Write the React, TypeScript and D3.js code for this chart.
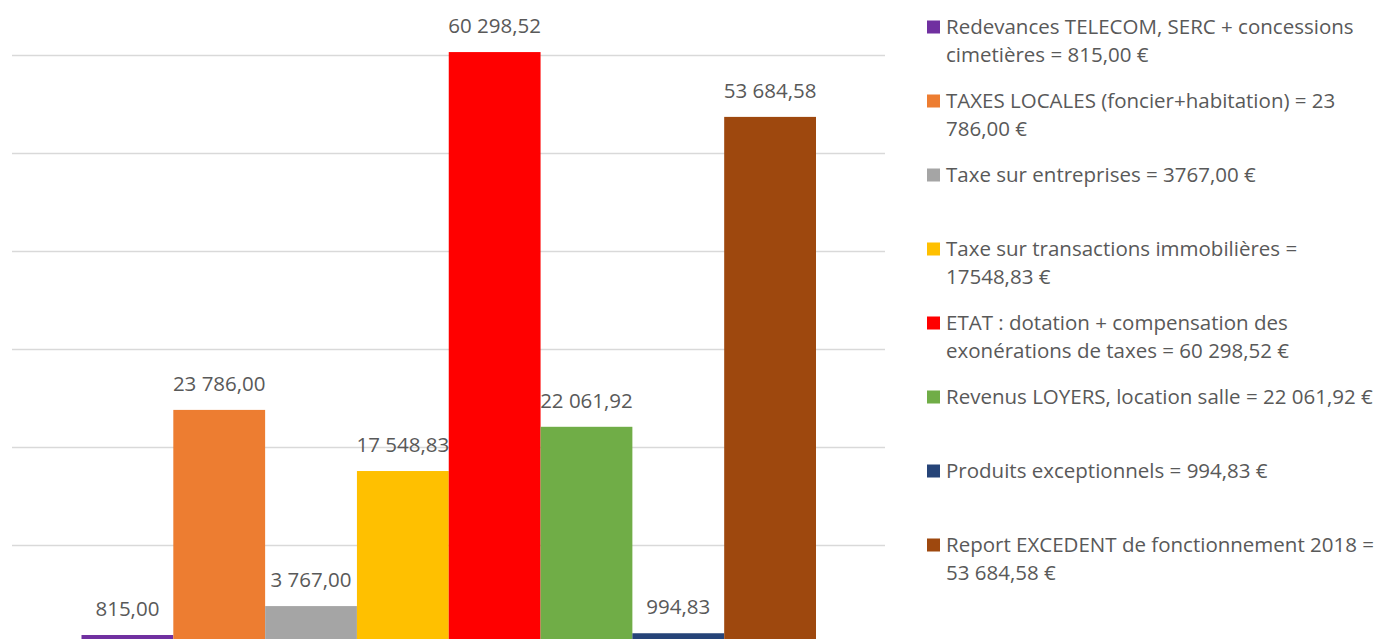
import React from "react";
import * as d3 from "d3";

const categories = [
  "Redevances TELECOM, SERC + concessions cimetières",
  "TAXES LOCALES (foncier+habitation)",
  "Taxe sur entreprises",
  "Taxe sur transactions immobilières",
  "ETAT : dotation + compensation des exonérations de taxes",
  "Revenus LOYERS, location salle",
  "Produits exceptionnels",
  "Report EXCEDENT de fonctionnement 2018",
];
const values = [815.0, 23786.0, 3767.0, 17548.83, 60298.52, 22061.92, 994.83, 53684.58];
const valueLabels = ["815,00", "23 786,00", "3 767,00", "17 548,83", "60 298,52", "22 061,92", "994,83", "53 684,58"];
const legendLines = [
  ["Redevances TELECOM, SERC + concessions", "cimetières = 815,00 €"],
  ["TAXES LOCALES (foncier+habitation) = 23", "786,00 €"],
  ["Taxe sur entreprises = 3767,00 €"],
  ["Taxe sur transactions immobilières =", "17548,83 €"],
  ["ETAT : dotation + compensation des", "exonérations de taxes = 60 298,52 €"],
  ["Revenus LOYERS, location salle = 22 061,92 €"],
  ["Produits exceptionnels = 994,83 €"],
  ["Report EXCEDENT de fonctionnement 2018 =", "53 684,58 €"],
];
const colors = ["#7030a0", "#ed7d31", "#a5a5a5", "#ffc000", "#ff0000", "#70ad47", "#264478", "#9e480e"];
const gridTicks = [0, 10000, 20000, 30000, 40000, 50000, 60000, 70000];

const FONT = "'Open Sans', sans-serif";
const TEXT = "#595959";

export default function App() {
  const W = 1388;
  const H = 639;
  const y = d3.scaleLinear().domain([0, 70000]).range([643, 643 - 686]);
  const x = d3.scaleBand<number>().domain(d3.range(values.length)).range([81.5, 816]).padding(0);
  const gridX0 = 12;
  const gridX1 = 885;

  return (
    <svg
      width={W}
      height={H}
      style={{ position: "absolute", left: 0, top: 0, background: "#fff" }}
      fontFamily={FONT}
    >
      {gridTicks.map((t) => (
        <line key={t} x1={gridX0} x2={gridX1} y1={Math.round(y(t)) + 0.5} y2={Math.round(y(t)) + 0.5} stroke="#d9d9d9" strokeWidth={1.3} />
      ))}
      {values.map((v, i) => (
        <rect key={i} x={x(i)!} y={y(v)} width={x.bandwidth()} height={y(0) - y(v)} fill={colors[i]} />
      ))}
      {values.map((v, i) => (
        <text key={"l" + i} x={x(i)! + x.bandwidth() / 2} y={y(v) - 19} textAnchor="middle" fontSize={20.5} fill={TEXT}>
          {valueLabels[i]}
        </text>
      ))}
      {legendLines.map((lines, i) => {
        const y0 = 27 + 74 * i;
        return (
          <g key={"lg" + i}>
            <rect x={927} y={y0 - 6.5} width={13} height={13} fill={colors[i]} />
            {lines.map((ln, j) => (
              <text key={j} x={946} y={y0 + 28 * j} dy="0.35em" fontSize={20.5} fill={TEXT}>
                {ln}
              </text>
            ))}
          </g>
        );
      })}
    </svg>
  );
}
